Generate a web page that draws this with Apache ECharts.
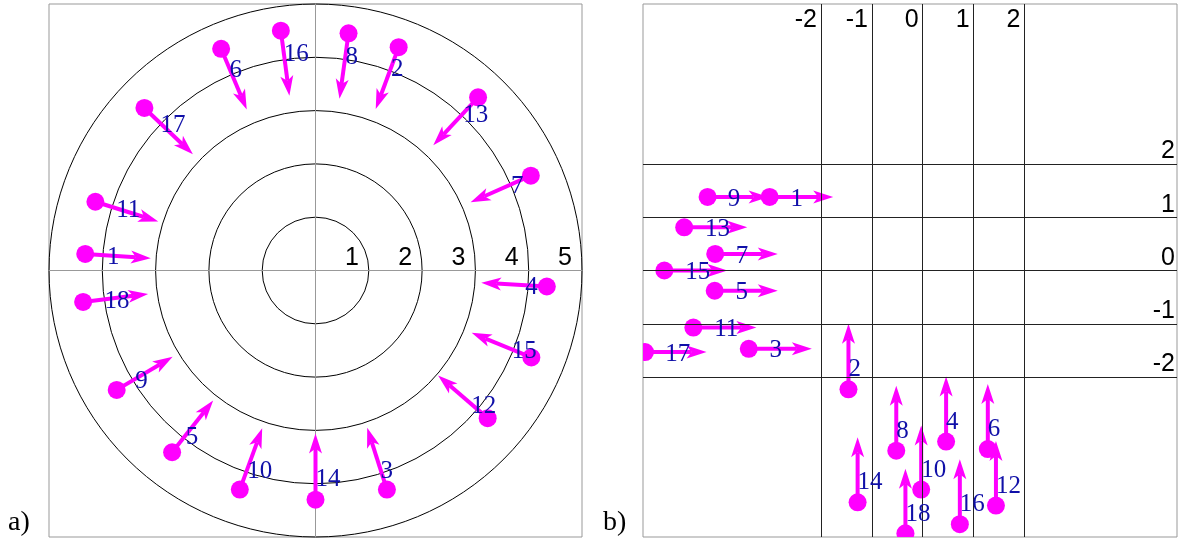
<!DOCTYPE html>
<html>
<head>
<meta charset="utf-8">
<script src="https://cdn.jsdelivr.net/npm/echarts@6/dist/echarts.min.js"></script>
<style>
  html, body { margin: 0; padding: 0; background: #fff; }
  #main { width: 1184px; height: 547px; }
</style>
</head>
<body>
<div id="main"></div>
<script>
// panel a) points on the polar plot, arrows point inward
var idsA  = [1, 11, 17, 6, 16, 8, 2, 13, 7, 4, 15, 12, 3, 14, 10, 5, 9, 18]
var xA    = [-4.32, -4.13, -3.21, -1.77, -0.65, 0.62, 1.56, 3.05, 4.04, 4.34, 4.05, 3.23, 1.34, 0, -1.42, -2.69, -3.73, -4.36]
var yA    = [0.31, 1.29, 3.05, 4.16, 4.50, 4.45, 4.19, 3.25, 1.78, -0.30, -1.63, -2.77, -4.11, -4.30, -4.11, -3.41, -2.24, -0.59]
var tipXA = [-3.09, -2.95, -2.30, -1.29, -0.49, 0.45, 1.13, 2.21, 2.91, 3.11, 2.93, 2.30, 0.97, 0, -1.00, -1.92, -2.68, -3.14]
var tipYA = [0.23, 0.92, 2.18, 3.02, 3.28, 3.22, 3.03, 2.35, 1.28, -0.23, -1.17, -1.97, -2.95, -3.06, -2.96, -2.44, -1.62, -0.44]
var ringsA = [1, 2, 3, 4, 5]

// panel b) points on the grid
var idsB  = [9, 1, 13, 7, 15, 5, 11, 17, 3, 2, 8, 4, 6, 12, 10, 14, 18, 16]
var xB    = [-4.23, -3.01, -4.69, -4.08, -5.08, -4.09, -4.51, -5.46, -3.42, -1.46, -0.52, 0.46, 1.28, 1.44, -0.03, -1.28, -0.34, 0.73]
var yB    = [1.38, 1.38, 0.81, 0.31, 0, -0.38, -1.07, -1.53, -1.47, -2.23, -3.38, -3.21, -3.35, -4.41, -4.11, -4.35, -4.93, -4.76]
var tipXB = [-3.03, -1.76, -3.45, -2.85, -3.84, -2.85, -3.27, -4.25, -2.18, -1.46, -0.52, 0.46, 1.28, 1.44, -0.03, -1.28, -0.34, 0.73]
var tipYB = [1.38, 1.38, 0.81, 0.31, 0, -0.38, -1.07, -1.53, -1.47, -1.00, -2.16, -1.99, -2.13, -3.20, -2.91, -3.13, -3.72, -3.54]
var ticksB = [-2, -1, 0, 1, 2]

var MAGENTA = '#ff00ff'
var BLUE = '#1010a8'
var SANS = 'Liberation Sans'
var SERIF = 'Liberation Serif'
var LABEL_AT = 0.33   // where the number sits along the arrow

function rows(ids, xs, ys, txs, tys) {
    return ids.map(function (id, i) { return [xs[i], ys[i], txs[i], tys[i], id] })
}

// dot + shaft + head, clipped to the frame
function renderArrow(params, api) {
    var p0 = api.coord([api.value(0), api.value(1)])
    var p1 = api.coord([api.value(2), api.value(3)])
    var dx = p1[0] - p0[0], dy = p1[1] - p0[1]
    var len = Math.sqrt(dx * dx + dy * dy) || 1
    var ux = dx / len, uy = dy / len
    var nx = -uy, ny = ux
    var hl = 20, hw = 6.5, notch = 5
    var bx = p1[0] - ux * hl, by = p1[1] - uy * hl
    var mx = bx + ux * notch, my = by + uy * notch
    return {
        type: 'group',
        children: [
            { type: 'line', shape: { x1: p0[0], y1: p0[1], x2: mx, y2: my },
              style: { stroke: MAGENTA, lineWidth: 4 } },
            { type: 'polygon', shape: { points: [[p1[0], p1[1]], [bx + nx * hw, by + ny * hw], [mx, my], [bx - nx * hw, by - ny * hw]] },
              style: { fill: MAGENTA } },
            { type: 'circle', shape: { cx: p0[0], cy: p0[1], r: 9 }, style: { fill: MAGENTA } }
        ]
    }
}

function renderLabel(params, api) {
    var x0 = api.value(0), y0 = api.value(1)
    var p = api.coord([x0 + LABEL_AT * (api.value(2) - x0), y0 + LABEL_AT * (api.value(3) - y0)])
    return {
        type: 'text', x: p[0], y: p[1] + 2,
        style: { text: String(api.value(4)), fill: BLUE, font: '25px "' + SERIF + '"', align: 'left', verticalAlign: 'middle' }
    }
}

function panelSeries(idx, data) {
    return [
        { type: 'custom', xAxisIndex: idx, yAxisIndex: idx, clip: true, renderItem: renderArrow, data: data, z: 3, silent: true },
        { type: 'custom', xAxisIndex: idx, yAxisIndex: idx, clip: false, renderItem: renderLabel, data: data, z: 5, silent: true }
    ]
}

var dataA = rows(idsA, xA, yA, tipXA, tipYA)
var dataB = rows(idsB, xB, yB, tipXB, tipYB)

var myChart = echarts.init(document.getElementById('main'))

var labelFont = { color: '#000', fontFamily: SANS, fontSize: 25 }

var option = {
    animation: false,
    backgroundColor: '#fff',
    grid: [
        { left: 49, top: 4, width: 533, height: 533, show: true, borderColor: '#999', borderWidth: 1 },
        { left: 643, top: 4, width: 534, height: 533, show: true, borderColor: '#999', borderWidth: 1 }
    ],
    polar: { center: [315.5, 270.5], radius: 266.5 },
    radiusAxis: {
        min: 0, max: 5, interval: 1,
        axisLine: { show: false }, axisTick: { show: false }, axisLabel: { show: false },
        splitLine: { show: true, lineStyle: { color: '#000', width: 1 } }
    },
    angleAxis: {
        min: 0, max: 360,
        axisLine: { show: false },
        axisTick: { show: false }, axisLabel: { show: false }, splitLine: { show: false }
    },
    xAxis: [
        {
            // moved up onto the centre line, labels sit just above it
            gridIndex: 0, type: 'value', min: -5, max: 5, interval: 1, offset: -266.5,
            axisLine: { onZero: false, lineStyle: { color: '#999', width: 1 } },
            axisTick: { show: false }, splitLine: { show: false },
            axisLabel: Object.assign({
                inside: true, margin: 0, align: 'right', verticalAlign: 'bottom', padding: [0, 10, 0, 0],
                formatter: function (v) { return ringsA.indexOf(v) >= 0 ? String(v) : '' }
            }, labelFont)
        },
        {
            gridIndex: 1, type: 'value', min: -5.5, max: 5, interval: 0.5, position: 'top',
            axisLine: { show: false }, axisTick: { show: false }, splitLine: { show: false },
            axisLabel: Object.assign({
                inside: true, margin: 4, align: 'right', verticalAlign: 'top', padding: [0, 4, 0, 0],
                formatter: function (v) { return ticksB.indexOf(v) >= 0 ? String(v) : '' }
            }, labelFont)
        }
    ],
    yAxis: [
        {
            gridIndex: 0, type: 'value', min: -5, max: 5, interval: 1,
            axisLine: { onZero: true, lineStyle: { color: '#999', width: 1 } },
            axisTick: { show: false }, splitLine: { show: false }, axisLabel: { show: false }
        },
        {
            gridIndex: 1, type: 'value', min: -5, max: 5, interval: 1, position: 'right',
            axisLine: { show: false }, axisTick: { show: false }, splitLine: { show: false },
            axisLabel: Object.assign({
                inside: true, margin: 2, align: 'right', verticalAlign: 'bottom',
                formatter: function (v) { return ticksB.indexOf(v) >= 0 ? String(v) : '' }
            }, labelFont)
        }
    ],
    graphic: [
        { type: 'text', left: 8, top: 509, style: { text: 'a)', font: '28px "' + SERIF + '"', fill: '#000' } },
        { type: 'text', left: 603, top: 509, style: { text: 'b)', font: '28px "' + SERIF + '"', fill: '#000' } }
    ],
    series: [
        { type: 'scatter', coordinateSystem: 'polar', data: [] },
        {
            // grid lines of panel b
            type: 'scatter', xAxisIndex: 1, yAxisIndex: 1, data: [],
            markLine: {
                silent: true, symbol: ['none', 'none'], animation: false,
                label: { show: false },
                lineStyle: { color: '#222', width: 1, type: 'solid' },
                data: ticksB.map(function (v) { return { xAxis: v } })
                    .concat(ticksB.map(function (v) { return { yAxis: v } }))
            }
        }
    ].concat(panelSeries(0, dataA), panelSeries(1, dataB))
}

myChart.setOption(option)
</script>
</body>
</html>
